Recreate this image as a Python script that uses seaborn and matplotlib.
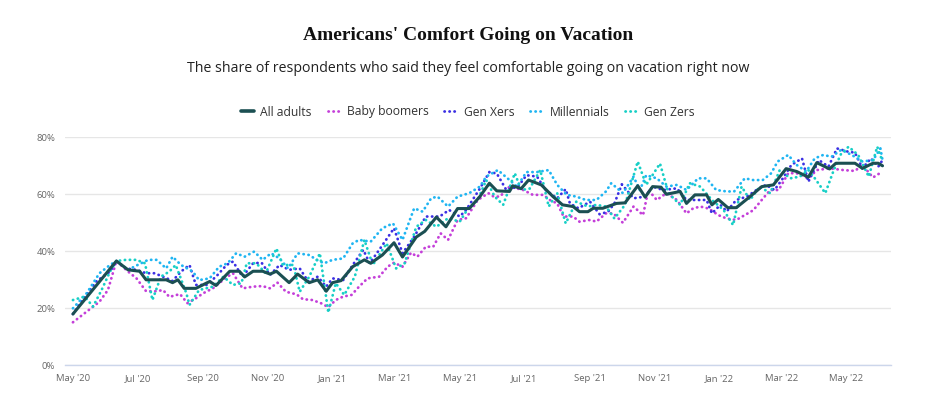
import matplotlib
matplotlib.use("Agg")
import matplotlib.pyplot as plt
import pandas as pd
import seaborn as sns
from matplotlib.lines import Line2D

# ---------------- data (days since 1 May 2020, share in %) ----------------
START = "2020-05-01"

adult_days = [0, 41, 52, 63, 69, 88, 94, 99, 105, 116, 129, 135, 148, 157, 162, 170, 179, 186, 192, 204,
              212, 223, 231, 239, 245, 253, 264, 275, 281, 292, 303, 311, 324, 332, 343, 352, 363, 374, 384, 393,
              400, 412, 415, 423, 430, 442, 453, 462, 472, 478, 486, 491, 500, 513, 521, 533, 540, 547, 555, 560,
              573, 579, 587, 598, 603, 609, 618, 626, 639, 650, 661, 673, 683, 694, 702, 714, 720, 738, 745, 755,
              760, 764]
adult_vals = [18, 36.6, 33.5, 33, 30, 30, 29, 30, 27, 27, 29.4, 28, 33, 33, 31, 33, 33, 32, 33, 29,
              32, 29, 30, 26, 29, 29.7, 34.6, 37, 35.8, 38.7, 43, 38, 45, 47, 52, 48.6, 55, 55, 59.2, 63.9,
              61.2, 61, 63, 62, 65, 63.3, 59.2, 56.3, 55.7, 53.9, 53.9, 55.1, 55.1, 56.8, 57, 63, 59, 62.7, 62.5, 60,
              61, 56.8, 59.8, 59.8, 56.3, 58.2, 55.3, 55.3, 59.2, 62.7, 63.3, 69, 68, 66, 71.1, 68.9, 70.9, 70.9, 69.1, 70.9,
              70.9, 70]

boomer_days = [0, 25, 33, 41, 52, 60, 69, 79, 85, 91, 101, 108, 116, 123, 132, 145, 151, 160, 170, 179,
               186, 193, 201, 211, 217, 226, 234, 241, 248, 255, 263, 270, 278, 289, 297, 303, 311, 319, 325, 333,
               340, 347, 354, 363, 371, 382, 392, 397, 403, 412, 425, 434, 444, 450, 457, 463, 472, 478, 488, 494,
               503, 510, 519, 529, 538, 543, 551, 560, 570, 579, 585, 592, 600, 609, 617, 626, 634, 642, 650, 658,
               666, 675, 683, 694, 702, 714, 727, 738, 745, 755, 764]
boomer_vals = [15.1, 22.3, 26.4, 36.6, 32.9, 30.5, 26, 26, 26.4, 24, 25, 21.8, 23.5, 25.3, 27, 30.9, 32.3, 27, 27.6, 27.8,
               27, 29, 25.8, 24.9, 23.2, 22.9, 21.8, 20.4, 22.9, 24.1, 24.7, 27.6, 30.5, 31.1, 34.6, 36, 34.6, 39.5, 38.1, 41.6,
               41.6, 46.3, 44, 51, 51.6, 58, 60.4, 59.2, 59.2, 62.7, 61.5, 59.8, 59.8, 58, 56.8, 52.2, 52.2, 50.4, 51, 50.4,
               53.3, 53.3, 50, 55.7, 52.7, 61.5, 58, 60.4, 58, 53.3, 55, 55.7, 55, 52.7, 51.5, 51, 52.7, 54.4, 58, 61.5,
               61.5, 67.4, 67.4, 65.6, 68.5, 69.1, 68.5, 68.2, 70.3, 65.9, 68]

genx_days = [0, 9, 22, 35, 41, 50, 60, 69, 77, 85, 94, 102, 110, 116, 126, 135, 145, 151, 160, 170,
             178, 186, 195, 204, 214, 222, 231, 239, 245, 255, 264, 274, 280, 289, 303, 311, 322, 333, 346, 355,
             365, 371, 384, 393, 400, 409, 420, 428, 438, 446, 457, 465, 469, 477, 488, 497, 505, 511, 518, 529,
             540, 547, 557, 570, 579, 585, 598, 603, 611, 617, 626, 636, 645, 654, 662, 670, 678, 688, 694, 704,
             713, 721, 731, 738, 745, 753, 760, 764]
genx_vals = [18, 22.9, 29.4, 32.9, 36.6, 34, 33.5, 32.3, 32.3, 31.1, 29.6, 32.9, 35.2, 28.2, 28.2, 31.1, 35.2, 36.4, 31.1, 35.8,
             36, 31.7, 35.2, 33.5, 34, 29.4, 31.1, 27.6, 30.5, 29.9, 35.2, 40.5, 35.8, 40.5, 48.1, 39.3, 45.1, 52.2, 52.2, 54.5,
             52.2, 54.5, 62, 67.8, 67.3, 61.5, 62.7, 66.7, 66.2, 61.5, 58.6, 61.8, 56.8, 55.1, 57.4, 53, 53.9, 56.8, 63.5, 58.6,
             59.2, 62.7, 61.5, 62.1, 58, 58, 58, 53.3, 56.3, 54, 58, 59.2, 61.5, 63.3, 61.5, 65.6, 70.3, 72.6, 64.4, 72,
             69.7, 76.1, 75, 74.6, 69.1, 72.6, 69.7, 72]

mill_days = [0, 13, 25, 35, 41, 52, 61, 71, 79, 88, 94, 102, 113, 119, 129, 138, 146, 154, 162, 171,
             179, 187, 195, 203, 212, 223, 230, 237, 245, 255, 264, 270, 281, 292, 302, 311, 322, 330, 338, 344,
             354, 363, 374, 384, 390, 401, 412, 419, 428, 438, 449, 457, 466, 475, 484, 494, 503, 508, 519, 529,
             535, 541, 551, 560, 570, 579, 590, 598, 607, 617, 624, 634, 642, 651, 659, 665, 675, 683, 692, 700,
             708, 716, 725, 735, 745, 755, 762, 764]
mill_vals = [20, 25.3, 32.3, 35.2, 36.6, 33.5, 35.2, 37, 37, 34, 38.1, 35.2, 32.9, 29.9, 30.5, 34.6, 35.8, 39.3, 38.1, 39.9,
             37, 39.3, 37.5, 34, 39.3, 38.7, 37, 35.8, 37, 37.5, 42.8, 44, 43.4, 48.1, 49.8, 44, 55.1, 53.9, 58.6, 59.2,
             55.7, 59.2, 60.4, 62.7, 66.2, 68.5, 65, 62.7, 67.8, 67.8, 68.5, 63.3, 59.8, 59.2, 58, 58, 61, 63.9, 60.4, 66.2,
             61.5, 66.7, 65.6, 62.7, 63.3, 61.5, 65.6, 65.6, 61.5, 61, 61, 65.6, 65, 65, 67.4, 71.5, 73.8, 70.3, 68, 72.6,
             73.8, 73.2, 75.6, 73.8, 71.5, 72, 76.1, 72]

genz_days = [0, 11, 19, 27, 35, 41, 50, 60, 68, 75, 83, 91, 97, 107, 110, 119, 132, 142, 151, 159,
             164, 173, 182, 192, 198, 208, 214, 223, 233, 241, 248, 256, 266, 275, 283, 296, 305, 313, 324, 333,
             343, 354, 365, 373, 382, 390, 398, 406, 417, 423, 431, 441, 449, 457, 465, 475, 486, 494, 503, 511,
             521, 533, 541, 554, 562, 573, 582, 592, 603, 614, 623, 631, 639, 648, 658, 667, 677, 686, 694, 699,
             710, 718, 725, 732, 741, 751, 759, 764]
genz_vals = [22.9, 24.1, 20.6, 26.4, 32.9, 36.6, 37, 37, 35.8, 22.9, 31.1, 32.9, 35.2, 25.3, 21.2, 26.4, 27.6, 31.1, 28.2, 28.8,
             35.8, 35.8, 32.3, 41, 35.2, 35.2, 25.8, 31.1, 39.3, 18.5, 28.8, 24.7, 31.1, 44, 35.2, 42.8, 34, 35.8, 48.6, 51,
             48.6, 51.6, 50.4, 55.1, 58, 65, 59.2, 56.3, 67.4, 61.5, 62, 68.5, 55.7, 60.4, 49.8, 57.4, 55.7, 56.3, 55.7, 51.5,
             56.3, 71.5, 63.3, 70.8, 60.4, 56.3, 63.9, 62.7, 58, 54.5, 49.2, 62.7, 58, 62.7, 60.4, 68.5, 65.6, 66.2, 68.5, 66.2,
             60.4, 68.5, 74.3, 76.7, 73.8, 66.2, 76.7, 71.5]

series_names = ["All adults", "Baby boomers", "Gen Xers", "Millennials", "Gen Zers"]
tick_dates = ["2020-05-01", "2020-07-01", "2020-09-01", "2020-11-01", "2021-01-01", "2021-03-01", "2021-05-01",
              "2021-07-01", "2021-09-01", "2021-11-01", "2022-01-01", "2022-03-01", "2022-05-01"]
tick_labels = ["May '20", "Jul '20", "Sep '20", "Nov '20", "Jan '21", "Mar '21", "May '21",
               "Jul '21", "Sep '21", "Nov '21", "Jan '22", "Mar '22", "May '22"]
y_ticks = [0, 20, 40, 60, 80]

# ---------------- styling ----------------
colors = {"All adults": "#1b4f52", "Baby boomers": "#c43fd9", "Gen Xers": "#3b2fe3",
          "Millennials": "#1fb5f2", "Gen Zers": "#17cfc6"}

sns.set_theme(style="white")
plt.rcParams['font.family'] = ['Open Sans', 'DejaVu Sans']

start = pd.Timestamp(START)
frames = []
for name, d, v in [("Baby boomers", boomer_days, boomer_vals), ("Gen Xers", genx_days, genx_vals),
                   ("Millennials", mill_days, mill_vals), ("Gen Zers", genz_days, genz_vals),
                   ("All adults", adult_days, adult_vals)]:
    frames.append(pd.DataFrame({"date": start + pd.to_timedelta(d, unit="D"), "value": v, "group": name}))

W, H = 936, 399
fig = plt.figure(figsize=(W / 100, H / 100), dpi=100)
ax = fig.add_axes([65 / W, 1 - 365.3 / H, (891 - 65) / W, (365.3 - 137.3) / H])

dot_style = dict(linestyle=(0, (0.1, 1.7)), dash_capstyle="round", linewidth=2.0)
for df in frames:
    name = df["group"].iloc[0]
    if name == "All adults":
        sns.lineplot(data=df, x="date", y="value", ax=ax, color=colors[name], linewidth=2.2,
                     estimator=None, sort=False, legend=False, zorder=5, solid_joinstyle="round")
    else:
        sns.lineplot(data=df, x="date", y="value", ax=ax, color=colors[name],
                     estimator=None, sort=False, legend=False, zorder=3, **dot_style)

ax.set_xlim(start - pd.Timedelta(days=7.5), start + pd.Timedelta(days=772))
ax.set_ylim(0, 80)
ax.set_xticks(pd.to_datetime(tick_dates))
ax.set_xticklabels(tick_labels)
ax.set_yticks(y_ticks)
ax.set_yticklabels([f"{t}%" for t in y_ticks])
ax.set_xlabel("")
ax.set_ylabel("")
ax.grid(axis="y", color="#e6e6e6", linewidth=1)
ax.set_axisbelow(True)
for s in ["top", "right", "left"]:
    ax.spines[s].set_visible(False)
ax.spines["bottom"].set_color("#ccd6eb")
ax.spines["bottom"].set_linewidth(1)
ax.tick_params(axis="x", direction="out", length=5, width=1, color="#ccd6eb",
               labelsize=6.8, labelcolor="#666666", pad=1)
ax.tick_params(axis="y", length=0, labelsize=6.8, labelcolor="#666666", pad=7)

fig.text(0.5, 1 - 35 / H, "Americans' Comfort Going on Vacation", ha="center", va="center",
         fontsize=14, fontweight="bold", family=["Liberation Serif", "DejaVu Serif"], color="#111111")
fig.text(0.5, 1 - 68 / H, "The share of respondents who said they feel comfortable going on vacation right now",
         ha="center", va="center", fontsize=10.2, color="#222222")

handles = []
for name in series_names:
    if name == "All adults":
        handles.append(Line2D([], [], color=colors[name], linewidth=2.6))
    else:
        handles.append(Line2D([], [], color=colors[name], **dot_style))
fig.legend(handles, series_names, loc="center", bbox_to_anchor=(0.5, 1 - 112 / H), ncol=5, frameon=False,
           fontsize=8.7, handlelength=1.1, handletextpad=0.5, columnspacing=1.3, labelcolor="#333333")

fig.savefig("out.png", dpi=100)
